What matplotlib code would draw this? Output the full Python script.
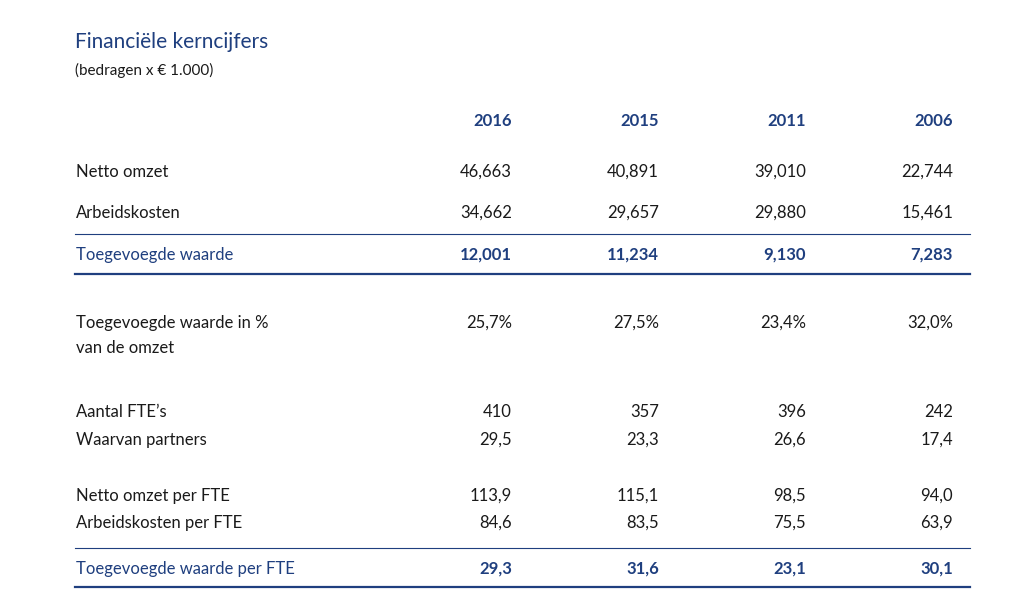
import matplotlib
matplotlib.use("Agg")
import matplotlib.pyplot as plt
from matplotlib.lines import Line2D

years = ["2016", "2015", "2011", "2006"]
netto_omzet = ["46,663", "40,891", "39,010", "22,744"]
arbeidskosten = ["34,662", "29,657", "29,880", "15,461"]
toegevoegde_waarde = ["12,001", "11,234", "9,130", "7,283"]
tw_pct = ["25,7%", "27,5%", "23,4%", "32,0%"]
aantal_fte = ["410", "357", "396", "242"]
partners = ["29,5", "23,3", "26,6", "17,4"]
omzet_fte = ["113,9", "115,1", "98,5", "94,0"]
arbeid_fte = ["84,6", "83,5", "75,5", "63,9"]
tw_fte = ["29,3", "31,6", "23,1", "30,1"]

W, H = 1024, 612
fig = plt.figure(figsize=(W/100, H/100), dpi=100)
fig.patch.set_facecolor("white")
BLUE = "#1f3f7f"
DARK = "#1a1a1a"
FONT = "Lato"
cols = [512, 659, 806, 953]

def T(x, y, s, **kw):
    kw.setdefault("family", FONT)
    fig.text(x/W, 1 - y/H, s, va="center", **kw)

def hline(y, lw, color=BLUE):
    fig.add_artist(Line2D([75/W, 970/W], [1 - y/H]*2, lw=lw, color=color))

T(75, 42, "Financiële kerncijfers", fontsize=15, color=BLUE)
T(75, 70, "(bedragen x € 1.000)", fontsize=11, color=DARK)
for x, yv in zip(cols, years):
    T(x, 121, yv, fontsize=12, color=BLUE, weight="bold", ha="right")

def row(y, label, vals, color=DARK, bold=False):
    T(76, y, label, fontsize=12, color=color)
    for x, v in zip(cols, vals):
        T(x, y, v, fontsize=12, color=color, ha="right", weight="bold" if bold else "normal")

row(172, "Netto omzet", netto_omzet)
row(213, "Arbeidskosten", arbeidskosten)
hline(234, 0.8)
row(255, "Toegevoegde waarde", toegevoegde_waarde, BLUE, True)
hline(274, 1.6)
row(323, "Toegevoegde waarde in %", tw_pct)
T(76, 348, "van de omzet", fontsize=12, color=DARK)
row(412, "Aantal FTE’s", aantal_fte)
row(440, "Waarvan partners", partners)
row(496, "Netto omzet per FTE", omzet_fte)
row(523, "Arbeidskosten per FTE", arbeid_fte)
hline(548, 0.8)
row(569, "Toegevoegde waarde per FTE", tw_fte, BLUE, True)
hline(587, 1.6)

fig.savefig("out.png", dpi=100, facecolor="white")
